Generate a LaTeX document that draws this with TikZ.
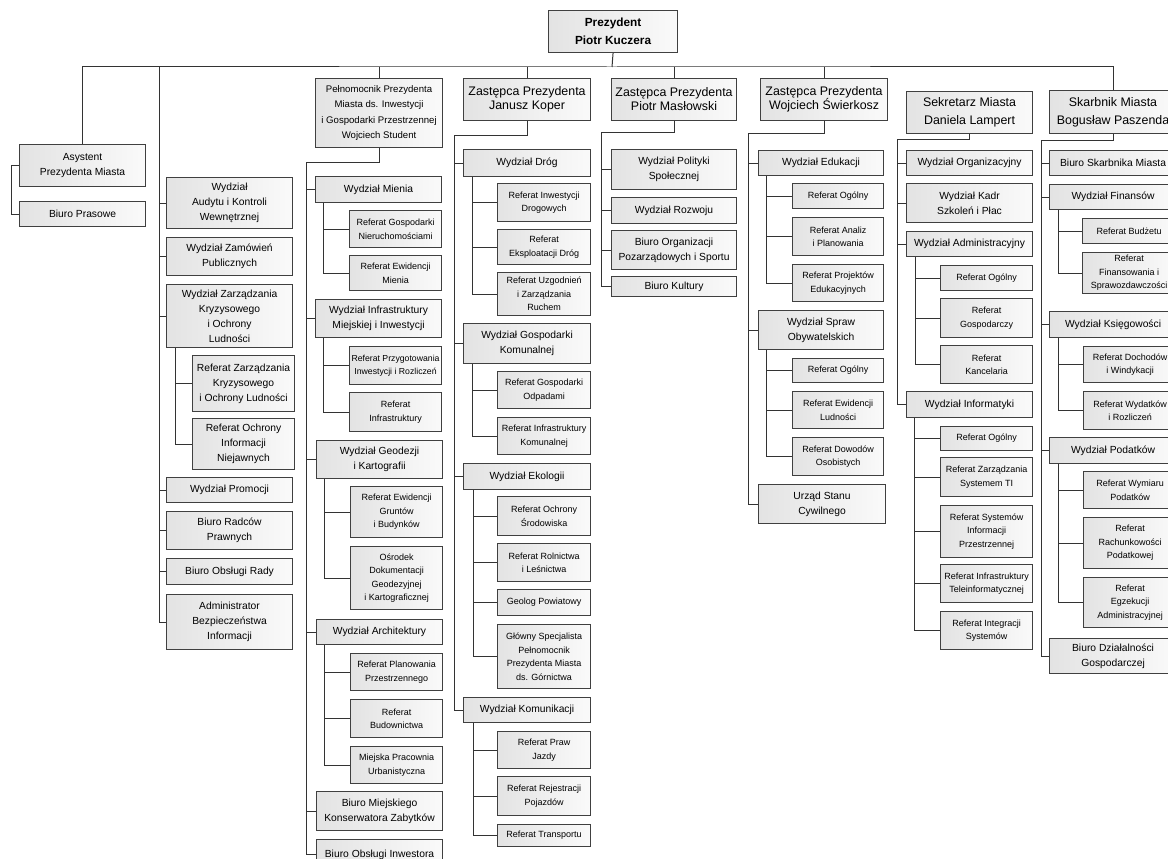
\documentclass[tikz,border=0pt]{standalone}
\usepackage{fontspec}
\setmainfont{Liberation Sans}
\usepackage{tikz}

\begin{document}
\begin{tikzpicture}[x=1pt,y=-1pt,
    box/.style={draw=black!75,line width=1.1pt,left color=black!11,right color=black!2,
                inner sep=1pt,align=center,anchor=north west},
    head/.style={box,minimum width=127pt,minimum height=42pt,font=\fontsize{12.4}{14}\selectfont},
    dept/.style={box,minimum width=126pt,minimum height=#1pt,font=\fontsize{10.3}{15}\selectfont},
    dept/.default=26,
    ref/.style={box,minimum width=92pt,minimum height=#1pt,font=\fontsize{9}{13.5}\selectfont},
    ref/.default=26,
    link/.style={draw=black!80,line width=1pt}]
  \useasboundingbox (0,0) rectangle (1168,859);
  \clip (0,0) rectangle (1168,859);
  \fill[white] (0,0) rectangle (1168,859);

  % top
  \node[box,minimum width=129pt,minimum height=42pt,font=\fontsize{11.8}{18}\selectfont\bfseries] (prez) at (548,10) {Prezydent\\Piotr Kuczera};

  % staff of the president
  \node[dept=42] (asyst)   at (19,144) {Asystent\\Prezydenta Miasta};
  \node[dept=25] (prasowe) at (19,201) {Biuro Prasowe};

  \node[dept=51] (audyt)    at (166,177) {Wydział\\Audytu i Kontroli\\Wewnętrznej};
  \node[dept=38] (zamow)    at (166,237) {Wydział Zamówień\\Publicznych};
  \node[dept=63] (kryzys)   at (166,284) {Wydział Zarządzania\\Kryzysowego\\i Ochrony\\Ludności};
  \node[dept=56,minimum width=102pt] (refkryzys)   at (192,355) {Referat Zarządzania\\Kryzysowego\\i Ochrony Ludności};
  \node[dept=51,minimum width=102pt] (refniejawne) at (192,418) {Referat Ochrony\\Informacji\\Niejawnych};
  \node[dept=25] (promocja) at (166,477) {Wydział Promocji};
  \node[dept=38] (radcy)    at (166,511) {Biuro Radców\\Prawnych};
  \node[dept=26] (rada)     at (166,558) {Biuro Obsługi Rady};
  \node[dept=55] (abi)      at (166,594) {Administrator\\Bezpieczeństwa\\Informacji};

  % Pelnomocnik
  \node[box,minimum width=127pt,minimum height=69pt,font=\fontsize{9.6}{15.3}\selectfont] (pelnom) at (315,78)
       {Pełnomocnik Prezydenta\\Miasta ds. Inwestycji\\i Gospodarki Przestrzennej\\Wojciech Student};
  \node[dept=26] (mienie)   at (315,176) {Wydział Mienia};
  \node[ref=37]  (refgn)    at (349,210) {Referat Gospodarki\\Nieruchomościami};
  \node[ref=35]  (refem)    at (349,255) {Referat Ewidencji\\Mienia};
  \node[dept=38] (infra)    at (315,299) {Wydział Infrastruktury\\Miejskiej i Inwestycji};
  \node[ref=38,font=\fontsize{8.7}{13.5}\selectfont] (refprz) at (349,346) {Referat Przygotowania\\Inwestycji i Rozliczeń};
  \node[ref=39]  (refinfra) at (349,392) {Referat\\Infrastruktury};
  \node[dept=38] (geodezja) at (316,440) {Wydział Geodezji\\i Kartografii};
  \node[ref=51]  (refgrunt) at (350,486) {Referat Ewidencji\\Gruntów\\i Budynków};
  \node[ref=63]  (osrodek)  at (350,546) {Ośrodek\\Dokumentacji\\Geodezyjnej\\i Kartograficznej};
  \node[dept=25] (arch)     at (316,619) {Wydział Architektury};
  \node[ref=37]  (refplan)  at (350,653) {Referat Planowania\\Przestrzennego};
  \node[ref=38]  (refbud)   at (350,699) {Referat\\Budownictwa};
  \node[ref=37]  (mpu)      at (350,746) {Miejska Pracownia\\Urbanistyczna};
  \node[dept=39] (konserw)  at (316,791) {Biuro Miejskiego\\Konserwatora Zabytków};
  \node[dept=30] (inwestor) at (316,839) {Biuro Obsługi Inwestora};

  % Koper
  \node[head] (koper) at (463,78) {Zastępca Prezydenta\\Janusz Koper};
  \node[dept=27,minimum width=127pt] (drogi) at (463,149) {Wydział Dróg};
  \node[ref=38,minimum width=93pt] (refid)  at (497,183) {Referat Inwestycji\\Drogowych};
  \node[ref=35,minimum width=93pt] (refed)  at (497,229) {Referat\\Eksploatacji Dróg};
  \node[ref=43,minimum width=93pt] (refuzg) at (497,272) {Referat Uzgodnień\\i Zarządzania\\Ruchem};
  \node[dept=40,minimum width=127pt] (gospkom) at (463,323) {Wydział Gospodarki\\Komunalnej};
  \node[ref=37,minimum width=93pt] (refodp) at (497,371) {Referat Gospodarki\\Odpadami};
  \node[ref=37,minimum width=93pt] (refik)  at (497,417) {Referat Infrastruktury\\Komunalnej};
  \node[dept=26,minimum width=127pt] (ekologia) at (463,463) {Wydział Ekologii};
  \node[ref=39,minimum width=93pt] (refos)  at (497,496) {Referat Ochrony\\Środowiska};
  \node[ref=38,minimum width=93pt] (refrl)  at (497,543) {Referat Rolnictwa\\i Leśnictwa};
  \node[ref=26,minimum width=93pt] (geolog) at (497,589) {Geolog Powiatowy};
  \node[ref=64,minimum width=93pt] (glowny) at (497,624) {Główny Specjalista\\Pełnomocnik\\Prezydenta Miasta\\ds. Górnictwa};
  \node[dept=25,minimum width=127pt] (komunik) at (463,697) {Wydział Komunikacji};
  \node[ref=37,minimum width=93pt] (refpj)  at (497,731) {Referat Praw\\Jazdy};
  \node[ref=39,minimum width=93pt] (refrp)  at (497,776) {Referat Rejestracji\\Pojazdów};
  \node[ref=22,minimum width=93pt] (reftr)  at (497,824) {Referat Transportu};

  % Maslowski
  \node[head,minimum width=125pt] (maslo) at (611,78) {Zastępca Prezydenta\\Piotr Masłowski};
  \node[dept=40,minimum width=125pt] (polityka) at (611,149) {Wydział Polityki\\Społecznej};
  \node[dept=26,minimum width=125pt] (rozwoj)   at (611,197) {Wydział Rozwoju};
  \node[dept=39,minimum width=125pt] (ngo)      at (611,230) {Biuro Organizacji\\Pozarządowych i Sportu};
  \node[dept=20,minimum width=125pt] (kultura)  at (611,276) {Biuro Kultury};

  % Swierkosz
  \node[head] (swierk) at (760,78) {Zastępca Prezydenta\\Wojciech Świerkosz};
  \node[dept=25,minimum width=125pt] (edukacja) at (758,150) {Wydział Edukacji};
  \node[ref=25,minimum width=91pt] (refog1)  at (792,183) {Referat Ogólny};
  \node[ref=38,minimum width=91pt] (refan)   at (792,217) {Referat Analiz\\i Planowania};
  \node[ref=37,minimum width=91pt] (refproj) at (792,264) {Referat Projektów\\Edukacyjnych};
  \node[dept=39,minimum width=125pt] (sprawy) at (758,310) {Wydział Spraw\\Obywatelskich};
  \node[ref=24,minimum width=91pt] (refog2)  at (792,358) {Referat Ogólny};
  \node[ref=37,minimum width=91pt] (refel)   at (792,391) {Referat Ewidencji\\Ludności};
  \node[ref=38,minimum width=91pt] (refdo)   at (792,437) {Referat Dowodów\\Osobistych};
  \node[dept=39,minimum width=127pt] (usc) at (758,484) {Urząd Stanu\\Cywilnego};

  % Lampert
  \node[head,minimum width=126pt,font=\fontsize{12.4}{18}\selectfont] (sekr) at (906,91) {Sekretarz Miasta\\Daniela Lampert};
  \node[dept=25] (organiz)  at (906,150) {Wydział Organizacyjny};
  \node[dept=39] (kadry)    at (906,183) {Wydział Kadr\\Szkoleń i Płac};
  \node[dept=25] (administr) at (906,231) {Wydział Administracyjny};
  \node[ref=25]  (refog3)   at (940,265) {Referat Ogólny};
  \node[ref=39]  (refgsp)   at (940,298) {Referat\\Gospodarczy};
  \node[ref=38]  (refkanc)  at (940,345) {Referat\\Kancelaria};
  \node[dept=26] (informat) at (906,391) {Wydział Informatyki};
  \node[ref=24]  (refog4)   at (940,426) {Referat Ogólny};
  \node[ref=39]  (refzti)   at (940,457) {Referat Zarządzania\\Systemem TI};
  \node[ref=52]  (refsip)   at (940,505) {Referat Systemów\\Informacji\\Przestrzennej};
  \node[ref=38]  (refitt)   at (940,564) {Referat Infrastruktury\\Teleinformatycznej};
  \node[ref=38]  (refis)    at (940,611) {Referat Integracji\\Systemów};

  % Paszenda
  \node[head,minimum width=127pt,minimum height=43pt,font=\fontsize{12.4}{18}\selectfont] (skarb) at (1049,90) {Skarbnik Miasta\\Bogusław Paszenda};
  \node[dept=25,minimum width=127pt] (bsm)      at (1049,150) {Biuro Skarbnika Miasta};
  \node[dept=25,minimum width=127pt] (finanse)  at (1049,184) {Wydział Finansów};
  \node[ref=25,minimum width=93pt] (refbu)  at (1082,218) {Referat Budżetu};
  \node[ref=41,minimum width=93pt] (reffs)  at (1082,252) {Referat\\Finansowania i\\Sprawozdawczości};
  \node[dept=26,minimum width=127pt] (ksieg)    at (1049,311) {Wydział Księgowości};
  \node[ref=36,minimum width=93pt] (refdw)  at (1083,346) {Referat Dochodów\\i Windykacji};
  \node[ref=38,minimum width=93pt] (refwr)  at (1083,391) {Referat Wydatków\\i Rozliczeń};
  \node[dept=26,minimum width=127pt] (podatki)  at (1049,437) {Wydział Podatków};
  \node[ref=37,minimum width=93pt] (refwp)  at (1083,471) {Referat Wymiaru\\Podatków};
  \node[ref=51,minimum width=93pt] (refrpd) at (1083,517) {Referat\\Rachunkowości\\Podatkowej};
  \node[ref=50,minimum width=93pt] (refea)  at (1083,577) {Referat\\Egzekucji\\Administracyjnej};
  \node[dept=35,minimum width=127pt] (bdg)      at (1049,638) {Biuro Działalności\\Gospodarczej};

  % bus under the president
  \coordinate (bus) at (612,67);
  \coordinate (staff) at (159,67);
  \draw[link] (prez.south) -- (bus);
  \draw[link] (asyst.north) |- (bus) -| (skarb.north);
  \draw[link] (pelnom.north) -- (pelnom.north |- bus)
              (koper.north) -- (koper.north |- bus)
              (maslo.north) -- (maslo.north |- bus)
              (swierk.north) -- (swierk.north |- bus);

  \draw[link] (asyst.west) -- ++(-8,0) |- (prasowe.west);

  \draw[link] (staff) |- (audyt.west) (staff) |- (zamow.west) (staff) |- (kryzys.west)
              (staff) |- (promocja.west) (staff) |- (radcy.west) (staff) |- (rada.west)
              (staff) |- (abi.west);
  \coordinate (kryzys-t) at ([xshift=9pt]kryzys.south west);
  \draw[link] (kryzys-t) |- (refkryzys.west) (kryzys-t) |- (refniejawne.west);

  % Pelnomocnik branch
  \coordinate (pelnom-t) at (306,162);
  \draw[link] (pelnom.south) |- (pelnom-t);
  \draw[link] (pelnom-t) |- (mienie.west) (pelnom-t) |- (infra.west) (pelnom-t) |- (geodezja.west)
              (pelnom-t) |- (arch.west) (pelnom-t) |- (konserw.west) (pelnom-t) |- (inwestor.west);
  \coordinate (mienie-t) at ([xshift=8pt]mienie.south west);
  \draw[link] (mienie-t) |- (refgn.west) (mienie-t) |- (refem.west);
  \coordinate (infra-t) at ([xshift=8pt]infra.south west);
  \draw[link] (infra-t) |- (refprz.west) (infra-t) |- (refinfra.west);
  \coordinate (geodezja-t) at ([xshift=8pt]geodezja.south west);
  \draw[link] (geodezja-t) |- (refgrunt.west) (geodezja-t) |- (osrodek.west);
  \coordinate (arch-t) at ([xshift=8pt]arch.south west);
  \draw[link] (arch-t) |- (refplan.west) (arch-t) |- (refbud.west) (arch-t) |- (mpu.west);

  % Koper branch
  \coordinate (koper-t) at (454,135);
  \draw[link] (koper.south) |- (koper-t);
  \draw[link] (koper-t) |- (drogi.west) (koper-t) |- (gospkom.west) (koper-t) |- (ekologia.west)
              (koper-t) |- (komunik.west);
  \coordinate (drogi-t) at ([xshift=9pt]drogi.south west);
  \draw[link] (drogi-t) |- (refid.west) (drogi-t) |- (refed.west) (drogi-t) |- (refuzg.west);
  \coordinate (gospkom-t) at ([xshift=9pt]gospkom.south west);
  \draw[link] (gospkom-t) |- (refodp.west) (gospkom-t) |- (refik.west);
  \coordinate (ekologia-t) at ([xshift=10pt]ekologia.south west);
  \draw[link] (ekologia-t) |- (refos.west) (ekologia-t) |- (refrl.west) (ekologia-t) |- (geolog.west)
              (ekologia-t) |- (glowny.west);
  \coordinate (komunik-t) at ([xshift=10pt]komunik.south west);
  \draw[link] (komunik-t) |- (refpj.west) (komunik-t) |- (refrp.west) (komunik-t) |- (reftr.west);

  % Maslowski branch
  \coordinate (maslo-t) at (601,132);
  \draw[link] (maslo.south) |- (maslo-t);
  \draw[link] (maslo-t) |- (polityka.west) (maslo-t) |- (rozwoj.west) (maslo-t) |- (ngo.west)
              (maslo-t) |- (kultura.west);

  % Swierkosz branch
  \coordinate (swierk-t) at (748,133);
  \draw[link] (swierk.south) |- (swierk-t);
  \draw[link] (swierk-t) |- (edukacja.west) (swierk-t) |- (sprawy.west) (swierk-t) |- (usc.west);
  \coordinate (edukacja-t) at ([xshift=8pt]edukacja.south west);
  \draw[link] (edukacja-t) |- (refog1.west) (edukacja-t) |- (refan.west) (edukacja-t) |- (refproj.west);
  \coordinate (sprawy-t) at ([xshift=8pt]sprawy.south west);
  \draw[link] (sprawy-t) |- (refog2.west) (sprawy-t) |- (refel.west) (sprawy-t) |- (refdo.west);

  % Lampert branch
  \coordinate (sekr-t) at (897,139);
  \draw[link] (sekr.south) |- (sekr-t);
  \draw[link] (sekr-t) |- (organiz.west) (sekr-t) |- (kadry.west) (sekr-t) |- (administr.west)
              (sekr-t) |- (informat.west);
  \coordinate (administr-t) at ([xshift=9pt]administr.south west);
  \draw[link] (administr-t) |- (refog3.west) (administr-t) |- (refgsp.west) (administr-t) |- (refkanc.west);
  \coordinate (informat-t) at ([xshift=8pt]informat.south west);
  \draw[link] (informat-t) |- (refog4.west) (informat-t) |- (refzti.west) (informat-t) |- (refsip.west)
              (informat-t) |- (refitt.west) (informat-t) |- (refis.west);

  % Paszenda branch
  \coordinate (skarb-t) at (1041,140);
  \draw[link] (skarb.south) |- (skarb-t);
  \draw[link] (skarb-t) |- (bsm.west) (skarb-t) |- (finanse.west) (skarb-t) |- (ksieg.west)
              (skarb-t) |- (podatki.west) (skarb-t) |- (bdg.west);
  \coordinate (finanse-t) at ([xshift=9pt]finanse.south west);
  \draw[link] (finanse-t) |- (refbu.west) (finanse-t) |- (reffs.west);
  \coordinate (ksieg-t) at ([xshift=9pt]ksieg.south west);
  \draw[link] (ksieg-t) |- (refdw.west) (ksieg-t) |- (refwr.west);
  \coordinate (podatki-t) at ([xshift=9pt]podatki.south west);
  \draw[link] (podatki-t) |- (refwp.west) (podatki-t) |- (refrpd.west) (podatki-t) |- (refea.west);
\end{tikzpicture}
\end{document}
